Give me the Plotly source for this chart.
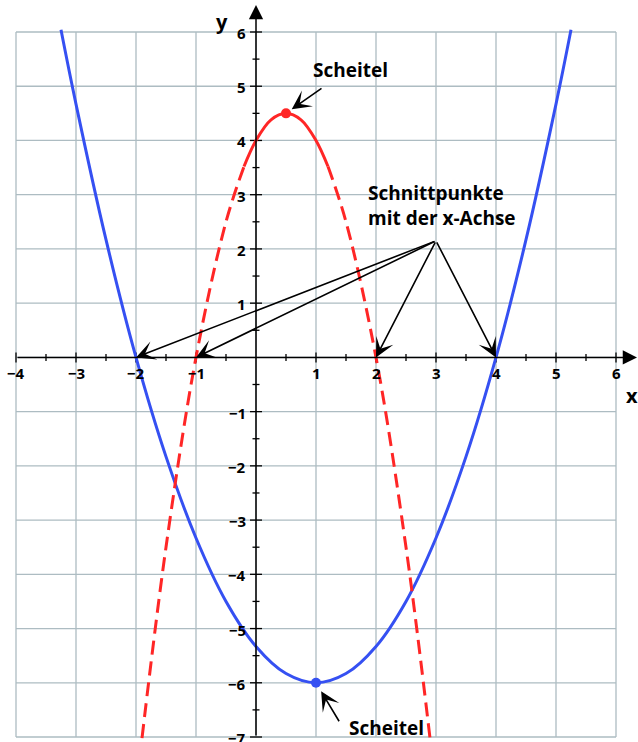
import plotly.graph_objects as go

# ---------------- data ----------------
# blue parabola (opening upwards), vertex (1, -6), zeros -2 and 4
blue_x = [-3.25, -3, -2.5, -2, -1.5, -1, -0.5, 0, 0.5, 1, 1.5, 2, 2.5, 3, 3.5, 4, 4.5, 5, 5.25]
blue_y = [6.04, 4.67, 2.17, 0, -1.83, -3.33, -4.5, -5.33, -5.83, -6, -5.83, -5.33, -4.5, -3.33, -1.83, 0, 2.17, 4.67, 6.04]

# red parabola (opening downwards), vertex (0.5, 4.5), zeros -1 and 2
red_left_x = [-1.9, -1.5, -1, -0.5, -0.2]
red_left_y = [-7.02, -3.5, 0, 2.5, 3.52]
red_mid_x = [-0.2, 0, 0.25, 0.5, 0.75, 1, 1.2]
red_mid_y = [3.52, 4, 4.38, 4.5, 4.38, 4, 3.52]
red_right_x = [1.2, 1.5, 2, 2.5, 2.9]
red_right_y = [3.52, 2.5, 0, -3.5, -7.02]

red_vertex = (0.5, 4.5)
blue_vertex = (1, -6)
zeros_x = [-2, -1, 2, 4]
pointer_origin = (3, 2.15)

x_ticks = [-4, -3, -2, -1, 1, 2, 3, 4, 5, 6]
y_ticks = [-7, -6, -5, -4, -3, -2, -1, 1, 2, 3, 4, 5, 6]
x_grid = [-4, -3, -2, -1, 0, 1, 2, 3, 4, 5, 6]
y_grid = [-7, -6, -5, -4, -3, -2, -1, 0, 1, 2, 3, 4, 5, 6]

label_scheitel = "Scheitel"
label_schnitt = "Schnittpunkte<br>mit der x-Achse"

# ---------------- styling ----------------
W, H = 638, 742
X_RANGE = [-4.2667, 6.3667]
Y_RANGE = [-7.092, 6.590]
PX_X = (X_RANGE[1] - X_RANGE[0]) / W
PX_Y = (Y_RANGE[1] - Y_RANGE[0]) / H

BLUE = "#3550f2"
RED = "#ff2626"
GRID = "#adbcc2"
FONT = "Open Sans"


def fmt(v):
    return ("\u2212" + str(abs(v))) if v < 0 else str(v)


fig = go.Figure()

# grid
gx, gy = [], []
for v in x_grid:
    gx += [v, v, None]
    gy += [min(y_grid), max(y_grid), None]
for v in y_grid:
    gx += [min(x_grid), max(x_grid), None]
    gy += [v, v, None]
fig.add_trace(go.Scatter(x=gx, y=gy, mode="lines", line=dict(color=GRID, width=1.3),
                         hoverinfo="skip"))

# tick marks on the axes
tx, ty = [], []
for v in x_ticks:
    tx += [v, v, None]
    ty += [-5 * PX_Y, 5 * PX_Y, None]
for v in y_ticks:
    tx += [-6 * PX_X, 6 * PX_X, None]
    ty += [v, v, None]
for v in x_grid[:-1]:
    m = v + 0.5
    tx += [m, m, None]
    ty += [-3.5 * PX_Y, 3.5 * PX_Y, None]
for v in y_grid[:-1]:
    m = v + 0.5
    tx += [-3.5 * PX_X, 3.5 * PX_X, None]
    ty += [m, m, None]
fig.add_trace(go.Scatter(x=tx, y=ty, mode="lines", line=dict(color="black", width=1.3),
                         hoverinfo="skip"))

# curves
fig.add_trace(go.Scatter(x=blue_x, y=blue_y, mode="lines",
                         line=dict(color=BLUE, width=3, shape="spline", smoothing=1)))
fig.add_trace(go.Scatter(x=red_left_x, y=red_left_y, mode="lines",
                         line=dict(color=RED, width=3, shape="spline", smoothing=1, dash="14px,7px")))
fig.add_trace(go.Scatter(x=red_mid_x, y=red_mid_y, mode="lines",
                         line=dict(color=RED, width=3, shape="spline", smoothing=1)))
fig.add_trace(go.Scatter(x=red_right_x, y=red_right_y, mode="lines",
                         line=dict(color=RED, width=3, shape="spline", smoothing=1, dash="14px,7px")))

# vertices
fig.add_trace(go.Scatter(x=[red_vertex[0]], y=[red_vertex[1]], mode="markers",
                         marker=dict(color=RED, size=10)))
fig.add_trace(go.Scatter(x=[blue_vertex[0]], y=[blue_vertex[1]], mode="markers",
                         marker=dict(color=BLUE, size=10)))

ann = []
# axes with arrows
ann.append(dict(x=6.35, y=0, ax=x_grid[0], ay=0, xref="x", yref="y", axref="x", ayref="y",
                showarrow=True, arrowhead=2, arrowwidth=1.5, arrowsize=1.9, arrowcolor="black", text=""))
ann.append(dict(x=0, y=6.5, ax=0, ay=y_grid[0], xref="x", yref="y", axref="x", ayref="y",
                showarrow=True, arrowhead=2, arrowwidth=1.5, arrowsize=1.9, arrowcolor="black", text=""))

tick_font = dict(family=FONT, size=15, color="black", weight=700)
for v in x_ticks:
    ann.append(dict(x=v, y=0, xref="x", yref="y", text=fmt(v), showarrow=False,
                    yshift=-16, font=tick_font))
for v in y_ticks:
    ann.append(dict(x=0, y=v, xref="x", yref="y", text=fmt(v), showarrow=False,
                    xanchor="right", xshift=-8, yshift=-1, font=tick_font))

axis_font = dict(family=FONT, size=20, color="black", weight=700)
ann.append(dict(x=0, y=6, xref="x", yref="y", text="y", showarrow=False,
                xshift=-34, yshift=11, font=axis_font))
ann.append(dict(x=6, y=0, xref="x", yref="y", text="x", showarrow=False,
                xshift=16, yshift=-38, font=axis_font))

txt_font = dict(family=FONT, size=19, color="black", weight=700)
# top Scheitel
ann.append(dict(x=red_vertex[0], y=red_vertex[1], xref="x", yref="y", text=label_scheitel,
                showarrow=False, xshift=64, yshift=43, font=txt_font))
ann.append(dict(x=red_vertex[0], y=red_vertex[1], xref="x", yref="y", text="",
                showarrow=True, ax=37, ay=-26, arrowhead=3, arrowwidth=1.6, arrowsize=2.0,
                standoff=7, arrowcolor="black"))
# bottom Scheitel
ann.append(dict(x=blue_vertex[0], y=blue_vertex[1], xref="x", yref="y", text=label_scheitel,
                showarrow=False, xshift=70, yshift=-45, font=txt_font))
ann.append(dict(x=blue_vertex[0], y=blue_vertex[1], xref="x", yref="y", text="",
                showarrow=True, ax=24, ay=40, arrowhead=3, arrowwidth=1.6, arrowsize=2.0,
                standoff=10, arrowcolor="black"))
# Schnittpunkte
ann.append(dict(x=pointer_origin[0], y=pointer_origin[1], xref="x", yref="y", text=label_schnitt,
                showarrow=False, xanchor="left", yanchor="middle", align="left",
                xshift=-70, yshift=35, font=txt_font))
for zx in zeros_x:
    ann.append(dict(x=zx, y=0, xref="x", yref="y", ax=pointer_origin[0], ay=pointer_origin[1],
                    axref="x", ayref="y", text="", showarrow=True, arrowhead=3,
                    arrowwidth=1.6, arrowsize=2.0, arrowcolor="black"))

fig.update_layout(
    width=W, height=H,
    margin=dict(l=0, r=0, t=0, b=0),
    paper_bgcolor="white", plot_bgcolor="white",
    showlegend=False,
    xaxis=dict(range=X_RANGE, visible=False, fixedrange=True),
    yaxis=dict(range=Y_RANGE, visible=False, fixedrange=True),
    annotations=ann,
)

fig.write_html("out.html", config={"displayModeBar": False},
               post_script="document.body.style.margin='0px';document.body.style.overflow='hidden';")
